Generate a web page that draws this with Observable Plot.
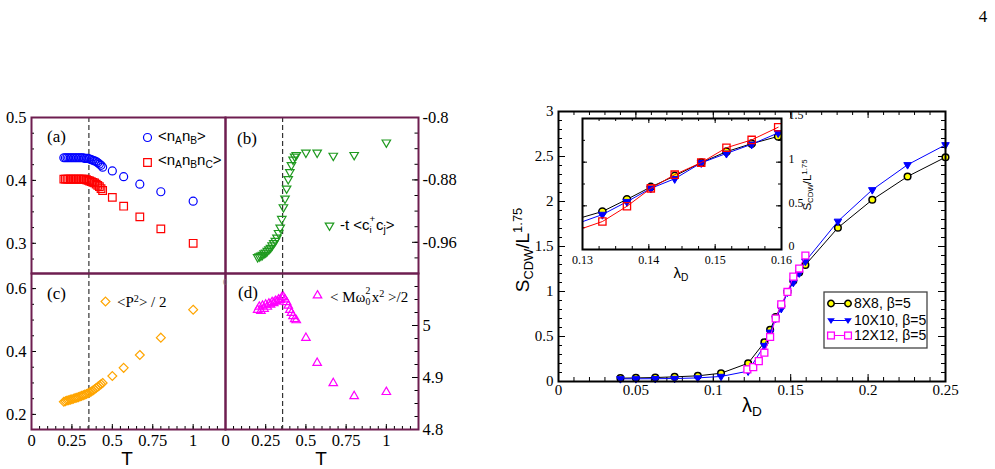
<!DOCTYPE html>
<html><head><meta charset="utf-8">
<script src="https://cdn.jsdelivr.net/npm/d3@7"></script>
<script src="https://cdn.jsdelivr.net/npm/@observablehq/plot@0.6"></script>
<style>
body{margin:0;background:#fff;}
#page{position:relative;width:995px;height:469px;overflow:hidden;background:#fff;}
.lbl{position:absolute;white-space:nowrap;line-height:1;}
.s{font-size:0.68em;vertical-align:-0.32em;}
.p{font-size:0.68em;vertical-align:0.5em;}
.ss{display:inline-block;position:relative;width:0.42em;height:1em;}
.ss>.u{position:absolute;left:0;top:-0.1em;font-size:0.65em;line-height:1;}
.ss>.d{position:absolute;left:0;top:1.05em;font-size:0.65em;line-height:1;}
</style></head><body><div id="page"></div>
<script>
// ---------- data: left figure (temperature scans) ----------
const T      = [0.20,0.21,0.22,0.23,0.24,0.25,0.26,0.27,0.28,0.29,0.30,0.31,0.32,0.33,0.34,0.35,0.36,0.37,0.38,0.39,0.40,0.41,0.42,0.43,0.44,0.50,0.57,0.67,0.80,1.00];
const nAnB   = [0.436,0.436,0.436,0.436,0.436,0.436,0.436,0.436,0.436,0.436,0.436,0.436,0.436,0.435,0.435,0.435,0.434,0.433,0.432,0.431,0.430,0.428,0.426,0.424,0.421,0.415,0.406,0.394,0.382,0.367];
const nAnBnC = [0.402,0.402,0.402,0.402,0.402,0.402,0.402,0.402,0.402,0.402,0.402,0.402,0.402,0.402,0.401,0.400,0.399,0.398,0.397,0.396,0.394,0.392,0.390,0.387,0.384,0.373,0.359,0.342,0.323,0.300];
const hop    = [-0.979,-0.978,-0.977,-0.976,-0.974,-0.973,-0.971,-0.969,-0.967,-0.964,-0.961,-0.958,-0.954,-0.948,-0.941,-0.930,-0.915,-0.904,-0.891,-0.879,-0.870,-0.861,-0.854,-0.850,-0.848,-0.845,-0.845,-0.849,-0.848,-0.832];
const P2half = [0.240,0.242,0.244,0.245,0.247,0.248,0.250,0.252,0.253,0.255,0.257,0.259,0.261,0.263,0.265,0.267,0.270,0.273,0.276,0.280,0.284,0.288,0.292,0.296,0.300,0.322,0.348,0.389,0.444,0.533];
const Mx2    = [5.030,5.036,5.028,5.038,5.032,5.040,5.036,5.042,5.040,5.045,5.043,5.047,5.046,5.050,5.049,5.054,5.055,5.050,5.045,5.038,5.030,5.024,5.018,5.012,5.010,4.976,4.928,4.889,4.864,4.872];
const Tcrit  = 0.355;
const tTicks = [0,0.25,0.5,0.75,1];
const aTicks = [0.3,0.4,0.5];
const bTicks = [-0.8,-0.88,-0.96];
const cTicks = [0.2,0.4,0.6];
const dTicks = [4.8,4.9,5];

// ---------- data: right figure (S_CDW / L^1.75 vs lambda_D) ----------
const lam    = [0.04,0.05,0.0625,0.075,0.09,0.105,0.1225,0.133,0.1367,0.1403,0.1439,0.1479,0.1517,0.1555,0.1595,0.1805,0.2027,0.2255,0.25];
const s8x8   = [0.037,0.040,0.044,0.052,0.063,0.092,0.203,0.435,0.574,0.716,0.842,0.995,1.12,1.212,1.295,1.708,2.019,2.278,2.492];
const s10x10 = [0.030,0.030,0.031,0.033,0.040,0.056,0.115,0.400,0.547,0.700,0.810,0.992,1.10,1.205,1.335,1.78,2.13,2.408,2.63];
const lam12  = [0.122,0.1258,0.1294,0.133,0.1367,0.1403,0.1439,0.1479,0.1517,0.1555,0.1595];
const s12x12 = [0.135,0.160,0.226,0.320,0.495,0.700,0.857,0.995,1.165,1.255,1.40];
const mainX  = [0,0.05,0.1,0.15,0.2,0.25];
const mainY  = [0,0.5,1,1.5,2,2.5,3];
const insX   = [0.13,0.14,0.15,0.16];
const insY   = [0,0.5,1,1.5];
const seriesNames = ["8X8, \u03b2=5","10X10, \u03b2=5","12X12, \u03b2=5"];

// ---------- helpers ----------
const page = document.getElementById("page");
const serif = "'Liberation Serif','Times New Roman',serif";
const sans  = "'Liberation Sans',Arial,sans-serif";
const FR = "#6e1e50";
const zip = (xs, ys) => xs.map((x,i) => ({x, y: ys[i]}));
const triUp = {draw(c,size){const r=Math.sqrt(size/Math.PI),s=r*2.5,h=s*0.866;c.moveTo(0,-2*h/3);c.lineTo(s/2,h/3);c.lineTo(-s/2,h/3);c.closePath();}};
const triDown = {draw(c,size){const r=Math.sqrt(size/Math.PI),s=r*2.5,h=s*0.866;c.moveTo(0,2*h/3);c.lineTo(s/2,-h/3);c.lineTo(-s/2,-h/3);c.closePath();}};
const tY = (vals, side, len, W) => Plot.tickY(vals, {y: d=>d, [side==="left"?"insetRight":"insetLeft"]: W-len, stroke:"#000", strokeWidth:1});
const tX = (vals, side, len, H) => Plot.tickX(vals, {x: d=>d, [side==="bottom"?"insetTop":"insetBottom"]: H-len, stroke:"#000", strokeWidth:1});
const rng = (a,b,s) => d3.range(Math.round((b-a)/s)+1).map(i => +(a+i*s).toFixed(6));

function panel({fx0,fx1,fy0,fy1,ml,mr,mt,mb,x,y,font,marks}){
  const W = fx1-fx0, H = fy1-fy0;
  const p = Plot.plot({
    width: W+ml+mr, height: H+mt+mb,
    marginLeft: ml, marginRight: mr, marginTop: mt, marginBottom: mb,
    x: {...x, label: null}, y: {...y, label: null},
    style: {background:"transparent", fontFamily: serif, fontSize: font+"px", overflow:"visible", color:"#000"},
    marks: marks(W,H)
  });
  p.style.position = "absolute"; p.style.left = (fx0-ml)+"px"; p.style.top = (fy0-mt)+"px"; p.style.maxWidth="none";
  page.append(p);
}
function label(html, x, y, {size=16, family=serif, align="start", rotate=0, color="#000"}={}){
  const d = document.createElement("div");
  d.className = "lbl"; d.innerHTML = html;
  d.style.left = x+"px"; d.style.top = y+"px";
  d.style.fontSize = size+"px"; d.style.fontFamily = family; d.style.color = color;
  const tx = align==="start" ? "0" : align==="middle" ? "-50%" : "-100%";
  d.style.transform = `translate(${tx},-50%)` + (rotate ? ` rotate(${rotate}deg)` : "");
  page.append(d);
}
const LF = 16.5;
const tMinor = rng(0,1.2,0.05);

// ---------- panel (a) ----------
panel({fx0:31,fx1:225,fy0:117,fy1:273,ml:31,mr:6,mt:12,mb:6,font:LF,
  x:{domain:[0,1.2],axis:null}, y:{domain:[0.252,0.5]},
  marks:(W,H)=>[
    tY(rng(0.275,0.5,0.025),"left",3,W), tY(aTicks,"left",5,W),
    Plot.axisY({anchor:"left",ticks:aTicks,tickSize:0,tickPadding:5,tickFormat:d=>String(d),fontSize:LF}),
    Plot.ruleX([Tcrit],{stroke:"#333",strokeWidth:1.2,strokeDasharray:"5,3"}),
    Plot.dot(zip(T,nAnB),{x:"x",y:"y",symbol:"circle",r:4,stroke:"#0000ff",fill:"none",strokeWidth:1.2}),
    Plot.dot(zip(T,nAnBnC),{x:"x",y:"y",symbol:"square",r:4.3,stroke:"#ff0000",fill:"none",strokeWidth:1.2}),
    Plot.dot([0],{frameAnchor:"top-left",dx:116,dy:20,symbol:"circle",r:4,stroke:"#0000ff",fill:"none",strokeWidth:1.2}),
    Plot.dot([0],{frameAnchor:"top-left",dx:116,dy:45,symbol:"square",r:4.3,stroke:"#ff0000",fill:"none",strokeWidth:1.2}),
    Plot.frame({stroke:FR,strokeWidth:2})
  ]});
// ---------- panel (b) ----------
panel({fx0:225,fx1:418,fy0:117,fy1:273,ml:6,mr:45,mt:12,mb:6,font:LF,
  x:{domain:[0,1.2],axis:null}, y:{domain:[-1,-0.8]},
  marks:(W,H)=>[
    tY(rng(-0.98,-0.8,0.02),"right",3.5,W), tY(bTicks,"right",6,W),
    Plot.axisY({anchor:"right",ticks:bTicks,tickSize:0,tickPadding:4,tickFormat:d=>String(d),fontSize:LF}),
    Plot.ruleX([Tcrit],{stroke:"#333",strokeWidth:1.2,strokeDasharray:"5,3"}),
    Plot.dot(zip(T,hop),{x:"x",y:"y",symbol:triDown,r:3.4,stroke:"#1f9a1f",fill:"none",strokeWidth:1.2}),
    Plot.dot([0],{frameAnchor:"top-left",dx:104,dy:108,symbol:triDown,r:3.4,stroke:"#1f9a1f",fill:"none",strokeWidth:1.2}),
    Plot.frame({stroke:FR,strokeWidth:2})
  ]});
// ---------- panel (c) ----------
panel({fx0:31,fx1:225,fy0:273,fy1:429,ml:31,mr:6,mt:6,mb:30,font:LF,
  x:{domain:[0,1.2]}, y:{domain:[0.152,0.648]},
  marks:(W,H)=>[
    tY(rng(0.2,0.6,0.05),"left",3,W), tY(cTicks,"left",5,W),
    tX(tMinor,"bottom",3,H), tX(tTicks,"bottom",5,H),
    Plot.axisY({anchor:"left",ticks:cTicks,tickSize:0,tickPadding:5,tickFormat:d=>String(d),fontSize:LF}),
    Plot.axisX({anchor:"bottom",ticks:tTicks,tickSize:0,tickPadding:5,tickFormat:d=>String(d),fontSize:LF}),
    Plot.ruleX([Tcrit],{stroke:"#333",strokeWidth:1.2,strokeDasharray:"5,3"}),
    Plot.dot(zip(T,P2half),{x:"x",y:"y",symbol:"diamond2",r:4,stroke:"#ffa500",fill:"none",strokeWidth:1.2}),
    Plot.dot([0],{frameAnchor:"top-left",dx:74,dy:28,symbol:"diamond2",r:4,stroke:"#ffa500",fill:"none",strokeWidth:1.2}),
    Plot.frame({stroke:FR,strokeWidth:2})
  ]});
// ---------- panel (d) ----------
panel({fx0:225,fx1:418,fy0:273,fy1:429,ml:6,mr:45,mt:6,mb:30,font:LF,
  x:{domain:[0,1.2]}, y:{domain:[4.8,5.1]},
  marks:(W,H)=>[
    tY(rng(4.8,5.1,0.025),"right",3.5,W), tY(dTicks,"right",6,W),
    tX(tMinor,"bottom",3,H), tX(tTicks,"bottom",5,H),
    Plot.axisY({anchor:"right",ticks:dTicks,tickSize:0,tickPadding:4,tickFormat:d=>String(d),fontSize:LF}),
    Plot.axisX({anchor:"bottom",ticks:tTicks,tickSize:0,tickPadding:5,tickFormat:d=>String(d),fontSize:LF}),
    Plot.ruleX([Tcrit],{stroke:"#333",strokeWidth:1.2,strokeDasharray:"5,3"}),
    Plot.dot(zip(T,Mx2),{x:"x",y:"y",symbol:triUp,r:3.4,stroke:"#ff00ff",fill:"none",strokeWidth:1.2}),
    Plot.dot([0],{frameAnchor:"top-left",dx:92,dy:22,symbol:triUp,r:3.4,stroke:"#ff00ff",fill:"none",strokeWidth:1.2}),
    Plot.frame({stroke:FR,strokeWidth:2})
  ]});

// left figure texts
label("(a)",47,136,{size:17}); label("(b)",237,138,{size:17});
label("(c)",47,293,{size:17}); label("(d)",238,292,{size:17});
label("&lt;n<span class=s>A</span>n<span class=s>B</span>&gt;",158,137,{size:15,family:sans});
label("&lt;n<span class=s>A</span>n<span class=s>B</span>n<span class=s>C</span>&gt;",158,161,{size:15,family:sans});
label("-t &lt;c<span class=ss><span class=u>+</span><span class=d>i</span></span>c<span class=s>j</span>&gt;",340,225,{size:15,family:sans});
label("&lt;P<span class=p>2</span>&gt; / 2",117,302,{size:15});
label("&lt; M\u03c9<span class=ss><span class=u>2</span><span class=d>0</span></span>x<span class=p>2</span> &gt;/2",330,296,{size:15});
label("T",127,458,{size:19,family:sans,align:"middle"});
label("T",321,458,{size:19,family:sans,align:"middle"});
label("0",225,283,{size:8,align:"middle",color:"#777"});
label("4",983,16,{size:17,align:"middle"});

// ---------- main right chart ----------
const d8 = zip(lam,s8x8), d10 = zip(lam,s10x10), d12 = zip(lam12,s12x12);
panel({fx0:558,fx1:945,fy0:111,fy1:381,ml:58,mr:40,mt:12,mb:30,font:15,
  x:{domain:[0,0.25]}, y:{domain:[0,3]},
  marks:(W,H)=>[
    tX(rng(0,0.25,0.01),"bottom",4,H), tX(rng(0,0.25,0.01),"top",4,H),
    tX(mainX,"bottom",7,H), tX(mainX,"top",7,H),
    tY(rng(0,3,0.1),"left",4,W), tY(rng(0,3,0.1),"right",4,W),
    tY(mainY,"left",7,W), tY(mainY,"right",7,W),
    Plot.axisX({anchor:"bottom",ticks:mainX,tickSize:0,tickPadding:3,tickFormat:d=>String(d),fontSize:15}),
    Plot.axisY({anchor:"left",ticks:mainY,tickSize:0,tickPadding:5,tickFormat:d=>String(d),fontSize:15}),
    Plot.line(d8,{x:"x",y:"y",stroke:"#000",strokeWidth:1}),
    Plot.dot(d8,{x:"x",y:"y",symbol:"circle",r:3.3,fill:"#ffff00",stroke:"#000",strokeWidth:1.5}),
    Plot.line(d10,{x:"x",y:"y",stroke:"#0000ff",strokeWidth:1}),
    Plot.dot(d10,{x:"x",y:"y",symbol:triDown,r:3,fill:"#0000ff",stroke:"#0000ff",strokeWidth:1}),
    Plot.line(d12,{x:"x",y:"y",stroke:"#ff00ff",strokeWidth:1}),
    Plot.dot(d12,{x:"x",y:"y",symbol:"square",r:3.9,fill:"#fff",stroke:"#ff00ff",strokeWidth:1.3}),
    Plot.frame({stroke:"#000",strokeWidth:2})
  ]});

// ---------- inset ----------
panel({fx0:582,fx1:781,fy0:118,fy1:249,ml:22,mr:45,mt:8,mb:22,font:12,
  x:{domain:[0.13,0.16]}, y:{domain:[0,1.5]},
  marks:(W,H)=>[
    Plot.frame({fill:"#fff"}),
    tX(rng(0.13,0.16,0.0025),"bottom",3,H), tX(rng(0.13,0.16,0.0025),"top",3,H),
    tX(insX,"bottom",5,H), tX(insX,"top",5,H),
    tY(rng(0,1.5,0.25),"left",3,W), tY(rng(0,1.5,0.25),"right",3,W),
    tY(insY,"left",5,W), tY(insY,"right",5,W),
    Plot.axisX({anchor:"bottom",ticks:insX,tickSize:0,tickPadding:6,tickFormat:d=>String(d),fontSize:12}),
    Plot.axisY({anchor:"right",ticks:insY,tickSize:0,tickPadding:7,dy:-3,tickFormat:d=>String(d),fontSize:12}),
    Plot.line(d8,{x:"x",y:"y",stroke:"#000",strokeWidth:1,clip:true}),
    Plot.dot(d8,{x:"x",y:"y",symbol:"circle",r:3.6,fill:"#ffff00",stroke:"#000",strokeWidth:1.5,clip:true}),
    Plot.line(d10,{x:"x",y:"y",stroke:"#0000ff",strokeWidth:1,clip:true}),
    Plot.dot(d10,{x:"x",y:"y",symbol:triDown,r:3.2,fill:"#0000ff",stroke:"#0000ff",strokeWidth:1,clip:true}),
    Plot.line(d12,{x:"x",y:"y",stroke:"#ff0000",strokeWidth:1,clip:true}),
    Plot.dot(d12,{x:"x",y:"y",symbol:"square",r:4.1,fill:"none",stroke:"#ff0000",strokeWidth:1.3,clip:true}),
    Plot.frame({stroke:"#000",strokeWidth:2})
  ]});

label("\u03bb<span class=s>D</span>",752,407,{size:20,family:sans,align:"middle"});
label("S<span class=s>CDW</span>/L<span class=p>1.75</span>",524,250,{size:19,family:sans,align:"middle",rotate:-90});
label("\u03bb<span class=s>D</span>",681,274,{size:15,family:sans,align:"middle"});
label("S<span class=s>CDW</span>/L<span class=p>1.75</span>",808,185,{size:11.5,family:sans,align:"middle",rotate:-90});

// ---------- legend of main chart ----------
const leg = document.createElementNS("http://www.w3.org/2000/svg","svg");
leg.setAttribute("width",105); leg.setAttribute("height",58);
leg.style.position="absolute"; leg.style.left="823px"; leg.style.top="291px";
const rows = [
  {stroke:"#000", mk:`<circle r="3.2" fill="#ffff00" stroke="#000" stroke-width="1.5"/>`},
  {stroke:"#0000ff", mk:`<path d="M0,3.5L3.8,-2.2L-3.8,-2.2Z" fill="#0000ff"/>`},
  {stroke:"#ff00ff", mk:`<rect x="-3.4" y="-3.4" width="6.8" height="6.8" fill="#fff" stroke="#ff00ff" stroke-width="1.3"/>`}
];
const rowY = [12.5, 29.5, 44.5];
let html = `<rect x="1" y="1" width="103" height="56" fill="#fff" stroke="#444" stroke-width="1.3"/>`;
rows.forEach((r,i)=>{
  const y = rowY[i];
  html += `<line x1="8" x2="25" y1="${y}" y2="${y}" stroke="${r.stroke}" stroke-width="1"/>`;
  html += `<g transform="translate(8,${y})">${r.mk}</g><g transform="translate(25,${y})">${r.mk}</g>`;
  html += `<text x="31" y="${y}" dy="0.35em" font-family="${sans}" font-size="14">${seriesNames[i]}</text>`;
});
leg.innerHTML = html;
page.append(leg);
</script></body></html>
